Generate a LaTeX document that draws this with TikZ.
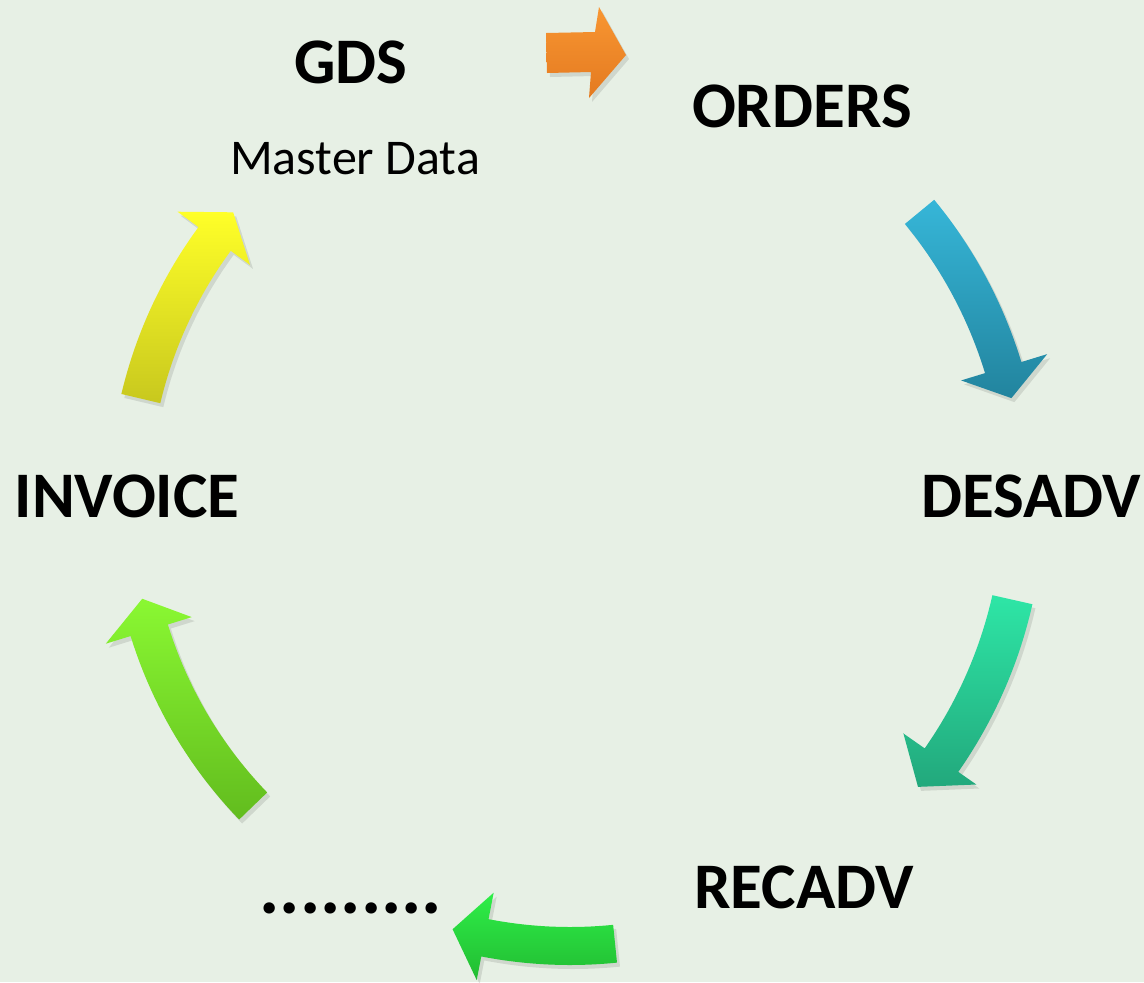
\documentclass[tikz,border=0pt]{standalone}
\usepackage{fontspec}
\setmainfont{Carlito}
\definecolor{bg}{RGB}{231,240,229}
\definecolor{orT}{RGB}{248,150,50}
\definecolor{orB}{RGB}{228,122,32}
\definecolor{blT}{RGB}{54,182,216}
\definecolor{blB}{RGB}{34,132,158}
\definecolor{tlT}{RGB}{46,230,166}
\definecolor{tlB}{RGB}{34,168,124}
\definecolor{gnT}{RGB}{46,238,72}
\definecolor{gnB}{RGB}{34,188,50}
\definecolor{lgT}{RGB}{138,248,50}
\definecolor{lgB}{RGB}{98,188,30}
\definecolor{ylT}{RGB}{255,255,40}
\definecolor{ylB}{RGB}{200,200,30}
\tikzset{
  lbl/.style={anchor=base,inner sep=0pt,font=\fontsize{32.5}{39}\selectfont\bfseries},
  sublbl/.style={anchor=base,inner sep=0pt,font=\fontsize{25}{30}\selectfont},
  shad/.style={fill=black,fill opacity=0.10},
}
% #1 tail angle, #2 head base angle, #3 tip angle, #4 inner r, #5 outer r,
% #6 inner wing r, #7 outer wing r, #8 tip r, #9 style
\newcommand\cycarrow[9]{%
  \path[#9] plot[domain=#1:#2,samples=24] ({570+#5*cos(\x)},{500+#5*sin(\x)})
    -- ({570+#7*cos(#2)},{500+#7*sin(#2)})
    -- ({570+#8*cos(#3)},{500+#8*sin(#3)})
    -- ({570+#6*cos(#2)},{500+#6*sin(#2)})
    -- plot[domain=#2:#1,samples=24] ({570+#4*cos(\x)},{500+#4*sin(\x)})
    -- cycle;}
\newcommand\shadedcyc[9]{%
  \begin{scope}[xshift=1.5pt,yshift=-2pt]
    \cycarrow{#1}{#2}{#3}{#4}{#5}{#6}{#7}{#8}{shad}
  \end{scope}
  \cycarrow{#1}{#2}{#3}{#4}{#5}{#6}{#7}{#8}{#9}}
\begin{document}
\begin{tikzpicture}[x=0.5pt,y=-0.5pt]
  \fill[bg] (0,0) rectangle (1144,982);
  \useasboundingbox (0,0) rectangle (1144,982);
  % orange straight arrow
  \path[shad,xshift=1.5pt,yshift=-2pt] (546,33) -- (595,32) -- (599,7) -- (626,55) -- (589,98) -- (591,72) -- (547,73) -- cycle;
  \path[top color=orT,bottom color=orB] (546,33) -- (595,32) -- (599,7) -- (626,55) -- (589,98) -- (591,72) -- (547,73) -- cycle;
  % curved arrows
  \shadedcyc{-39.5}{-17}{-13}{434}{472}{409}{499}{453}{top color=blT,bottom color=blB}
  \shadedcyc{12.7}{35}{39.5}{433}{474}{407}{496}{451}{top color=tlT,bottom color=tlB}
  \shadedcyc{84.2}{101}{105.3}{427}{465}{400}{489}{445}{top color=gnT,bottom color=gnB}
  \shadedcyc{136}{162.8}{167}{421}{460}{396}{486}{439}{top color=lgT,bottom color=lgB}
  \shadedcyc{193.3}{216.3}{220.5}{421}{461}{397}{487}{443}{top color=ylT,bottom color=ylB}
  % labels
  \node[lbl] (gds) at (351,83) {GDS};
  \node[sublbl] (md) at (355,174) {Master Data};
  \node[lbl] (orders) at (802,127) {ORDERS};
  \node[lbl] (desadv) at (1031,517) {DESADV};
  \node[lbl] (recadv) at (804,908) {RECADV};
  \node[lbl,font=\fontsize{38}{44}\selectfont\bfseries] (dots) at (351,913) {.........};
  \node[lbl] (invoice) at (127,517) {INVOICE};
\end{tikzpicture}
\end{document}
